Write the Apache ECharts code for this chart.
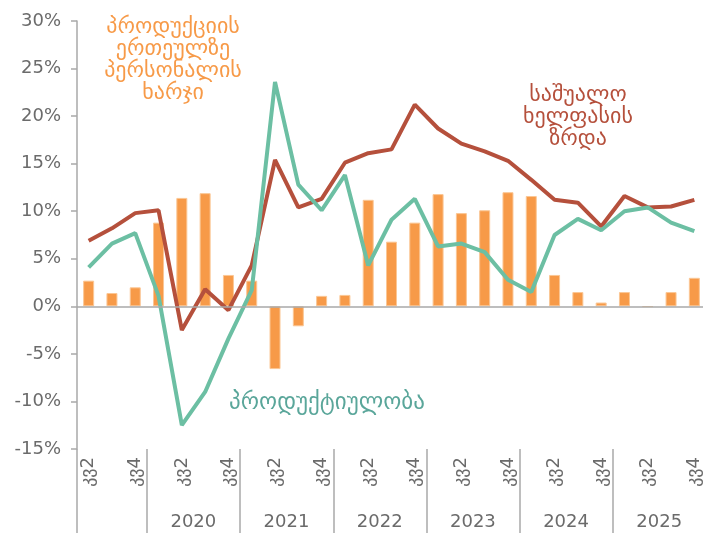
<!DOCTYPE html>
<html>
<head>
<meta charset="utf-8">
<script src="https://cdn.jsdelivr.net/npm/echarts@6/dist/echarts.min.js"></script>
<style>html,body{margin:0;padding:0;background:#fff}#c{width:703px;height:533px}</style>
</head>
<body>
<div id="c"></div>
<script>
// Categories: year and quarter of each period
const periodYears = ['2019','2019','2019','2020','2020','2020','2020','2021','2021','2021','2021','2022','2022','2022','2022','2023','2023','2023','2023','2024','2024','2024','2024','2025','2025','2025','2025'];
const periodQuarters = ['კვ2','კვ3','კვ4','კვ1','კვ2','კვ3','კვ4','კვ1','კვ2','კვ3','კვ4','კვ1','კვ2','კვ3','კვ4','კვ1','კვ2','კვ3','კვ4','კვ1','კვ2','კვ3','კვ4','კვ1','კვ2','კვ3','კვ4'];
const yearLabels = ['2020','2021','2022','2023','2024','2025'];
const yTicks = [-15,-10,-5,0,5,10,15,20,25,30];

// Series values (%)
const unitLaborCost = [2.7,1.4,2.0,8.8,11.4,11.9,3.3,2.7,-6.6,-2.1,1.1,1.2,11.2,6.8,8.8,11.8,9.8,10.1,12.0,11.6,3.3,1.5,0.4,1.5,-0.05,1.5,3.0];
const wageGrowth = [6.9,8.2,9.8,10.1,-2.5,1.8,-0.4,4.3,15.4,10.4,11.3,15.1,16.1,16.5,21.2,18.7,17.1,16.3,15.3,13.3,11.2,10.9,8.4,11.6,10.4,10.5,11.2];
const productivity = [4.1,6.6,7.7,1.1,-12.5,-9.0,-3.4,1.7,23.6,12.8,10.1,13.8,4.3,9.1,11.3,6.3,6.6,5.7,2.8,1.5,7.5,9.2,8.0,10.0,10.4,8.8,7.9];

const FONT = 'DejaVu Sans';
const GRAY = '#6b6b6b';
const AXIS = '#a9a9a9';
const categories = periodYears.map((y, i) => y + ' ' + periodQuarters[i]);

const chart = echarts.init(document.getElementById('c'), null, {renderer: 'canvas'});
chart.setOption({
  animation: false,
  grid: {left: 77, right: -3, top: 21, bottom: 84, containLabel: false, outerBoundsMode: 'none'},
  xAxis: [
    {
      type: 'category', data: categories, position: 'bottom',
      axisLine: {show: false}, axisTick: {show: false},
      axisLabel: {
        interval: 1, rotate: 90, margin: 8, color: GRAY, fontSize: 18, fontFamily: FONT,
        formatter: v => v.split(' ')[1]
      }
    },
    {
      type: 'category', data: categories, position: 'bottom',
      axisLine: {show: false},
      axisTick: {
        show: true, length: 84, lineStyle: {color: AXIS, width: 1.5},
        interval: (i) => i === 0 || periodQuarters[i] === 'კვ1'
      },
      axisLabel: {
        interval: (i) => periodQuarters[i] === 'კვ2' && yearLabels.indexOf(periodYears[i]) >= 0,
        formatter: v => v.split(' ')[0],
        margin: 64, padding: [0, 0, 0, 23], color: GRAY, fontSize: 18, fontFamily: FONT
      }
    }
  ],
  yAxis: {
    type: 'value', min: yTicks[0], max: yTicks[yTicks.length - 1], interval: 5,
    axisLine: {show: true, lineStyle: {color: AXIS, width: 1.5}},
    axisTick: {show: true, length: 6, lineStyle: {color: AXIS, width: 1.5}},
    splitLine: {show: false},
    axisLabel: {formatter: '{value}%', color: GRAY, fontSize: 18, fontFamily: FONT, margin: 16}
  },
  series: [
    {
      name: 'პროდუქციის ერთეულზე პერსონალის ხარჯი', type: 'bar', data: unitLaborCost,
      barWidth: 11, itemStyle: {color: '#f79a48', borderColor: '#fbc795', borderWidth: 1},
      markLine: {
        silent: true, symbol: 'none', label: {show: false},
        lineStyle: {color: AXIS, width: 1.5, type: 'solid'},
        data: [{yAxis: 0}]
      }
    },
    {
      name: 'საშუალო ხელფასის ზრდა', type: 'line', data: wageGrowth,
      symbol: 'none', lineStyle: {color: '#b5503c', width: 4}, itemStyle: {color: '#b5503c'}
    },
    {
      name: 'პროდუქტიულობა', type: 'line', data: productivity,
      symbol: 'none', lineStyle: {color: '#6cbfa3', width: 4}, itemStyle: {color: '#6cbfa3'}
    }
  ],
  graphic: [
    {type: 'text', x: 173, y: 16, style: {
      text: 'პროდუქციის\nერთეულზე\nპერსონალის\nხარჯი', fill: '#f79a48',
      font: '22px "DejaVu Sans"', lineHeight: 22, align: 'center', verticalAlign: 'top'
    }},
    {type: 'text', x: 578, y: 84, style: {
      text: 'საშუალო\nხელფასის\nზრდა', fill: '#b5503c',
      font: '22px "DejaVu Sans"', lineHeight: 22, align: 'center', verticalAlign: 'top'
    }},
    {type: 'text', x: 327, y: 403, style: {
      text: 'პროდუქტიულობა', fill: '#5aa69a',
      font: '23px "DejaVu Sans"', align: 'center', verticalAlign: 'middle'
    }}
  ]
});
</script>
</body>
</html>
